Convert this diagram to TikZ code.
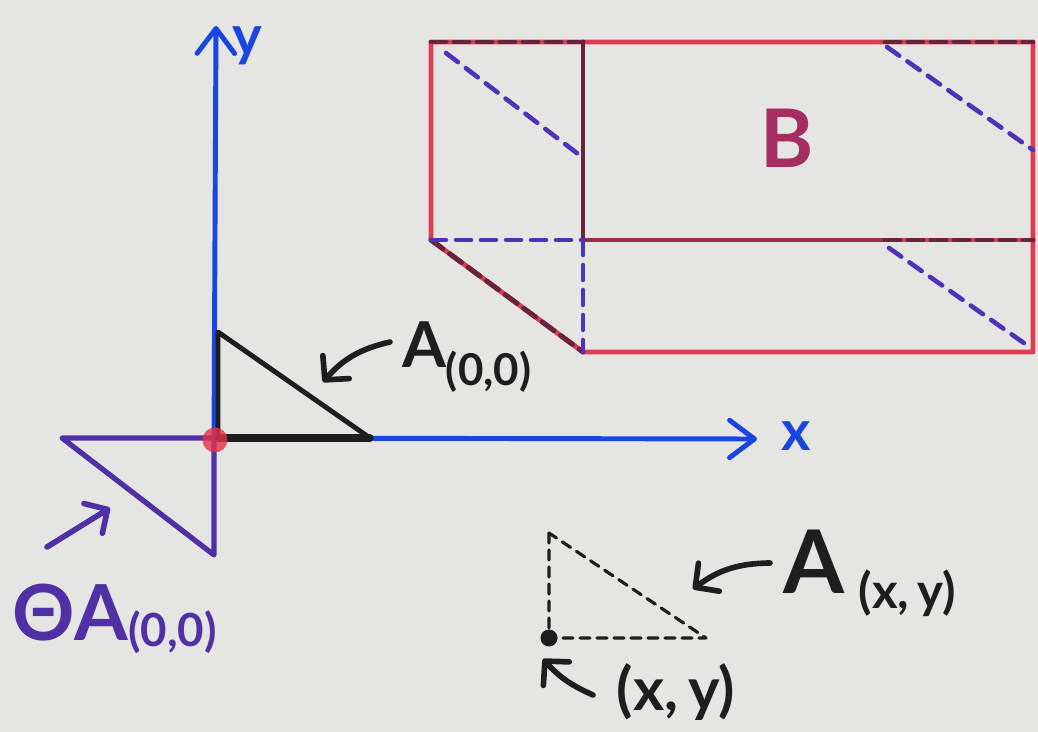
\documentclass[tikz,border=0pt]{standalone}
\usepackage{fontspec}
\setmainfont{Lato}
\usetikzlibrary{arrows.meta}
\definecolor{paper}{RGB}{229,229,227}
\definecolor{axisblue}{RGB}{25,70,225}
\definecolor{markpurple}{RGB}{80,48,165}
\definecolor{boxred}{RGB}{222,60,82}
\definecolor{boxdark}{RGB}{105,35,60}
\definecolor{inkblack}{RGB}{30,30,30}
\definecolor{bmag}{RGB}{165,45,95}
\definecolor{dotred}{RGB}{228,50,72}
\definecolor{dashpurple}{RGB}{78,50,185}
\begin{document}
\begin{tikzpicture}[x=0.02cm,y=-0.02cm,line cap=round,line join=round,
  axis/.style={draw=axisblue,line width=2.8pt},
  axistip/.style={-{Straight Barb[length=0.5cm,width=0.75cm,round]}},
  pointtip/.style={-{Straight Barb[length=0.34cm,width=0.7cm,round]}},
  redline/.style={draw=boxred,line width=2.8pt},
  darkdash/.style={draw=boxdark,line width=2.8pt,dash pattern=on 0.3cm off 0.16cm},
  purpledash/.style={draw=dashpurple,line width=2.6pt,dash pattern=on 0.3cm off 0.2cm},
  inkdash/.style={draw=inkblack,line width=1.8pt,dash pattern=on 0.2cm off 0.14cm},
  lbl/.style={inner sep=0pt,outer sep=0pt}]
\fill[paper] (0,0) rectangle (1038,732);
\useasboundingbox (0,0) rectangle (1038,732);

% ---- box B ----
\coordinate (tl) at (431,42);
\coordinate (tm) at (583,42);
\coordinate (tr2) at (885,42);
\coordinate (tr) at (1033,42);
\coordinate (ml) at (431,240);
\coordinate (mm) at (583,240);
\coordinate (mr2) at (885,240);
\coordinate (mr) at (1033,240);
\coordinate (bm) at (583,352);
\coordinate (br) at (1033,352);
\draw[redline] (tl) -- (tr) -- (br) -- (bm) -- (ml) -- cycle;
\draw[redline] (mm) -- (mr);
\draw[draw=boxdark,line width=2.8pt] (tm) -- (mm);
\draw[draw=boxdark!60!boxred,line width=2.6pt] (mm) -- (mr2);
\draw[darkdash] (tl) -- (tm);
\draw[darkdash] (tr2) -- (tr);
\draw[darkdash] (mr2) -- (mr);
\draw[darkdash] (ml) -- (bm);
\draw[purpledash] (ml) -- (mm);
\draw[purpledash] (mm) -- (bm);
\draw[purpledash] (446,53) -- (582,157);
\draw[purpledash] (887,47) -- (1033,150);
\draw[purpledash] (889,248) -- (1031,348);
\node[lbl,text=bmag,font=\bfseries\fontsize{46}{50}\selectfont] (B) at (787,138) {B};

% ---- axes ----
\coordinate (O) at (214,438);
\coordinate (ytop) at (216,26);
\coordinate (xend) at (757,439);
\draw[axis,axistip] (O) -- (ytop);
\draw[axis,axistip] (O) -- (xend);
\node[lbl,text=axisblue,font=\bfseries\fontsize{32}{36}\selectfont] (ylab) at (247,46) {y};
\node[lbl,text=axisblue,font=\bfseries\fontsize{32}{36}\selectfont] (xlab) at (796,436) {x};

% ---- purple rotated triangle ----
\coordinate (p1) at (62,438);
\coordinate (p3) at (214,555);
\draw[draw=markpurple,line width=3pt] (p1) -- (O) -- (p3) -- cycle;

% ---- black triangle A(0,0) ----
\coordinate (a1) at (218,332);
\coordinate (a2) at (218,438);
\coordinate (a3) at (370,438);
\draw[draw=inkblack,line width=2.8pt] (a2) -- (a1) -- (a3);
\draw[draw=inkblack,line width=4.2pt] (a2) -- (a3);

% ---- red dot at origin ----
\fill[dotred,opacity=0.8] (215,440) circle[radius=0.25cm];

% ---- label A(0,0) ----
\node[lbl,anchor=base west,text=inkblack] (A00) at (402,368)
  {\bfseries\fontsize{36}{40}\selectfont A\raisebox{-0.36cm}{\fontsize{25}{28}\selectfont(0,0)}};
\coordinate (A00s) at (390,342);
\coordinate (A00t) at (323,382);
\draw[draw=inkblack,line width=3.2pt,pointtip] (A00s) to[bend right=18] (A00t);

% ---- label ThetaA(0,0) ----
\node[lbl,anchor=base west,text=markpurple] (TA) at (12,641)
  {\bfseries\fontsize{44}{48}\selectfont ΘA\raisebox{-0.12cm}{\fontsize{26}{28}\selectfont(0,0)}};
\coordinate (TAs) at (47,547);
\coordinate (TAt) at (110,508);
\draw[draw=markpurple,line width=3.2pt,pointtip] (TAs) -- (TAt);

% ---- dashed triangle A(x,y) ----
\coordinate (q1) at (549,533);
\coordinate (q2) at (549,638);
\coordinate (q3) at (706,638);
\draw[inkdash] (q1) -- (q2) -- (q3) -- cycle;
\fill[inkblack] (q2) circle[radius=0.17cm];

\node[lbl,anchor=base west,text=inkblack] (Axy) at (783,594)
  {\bfseries\fontsize{50}{54}\selectfont A\,\raisebox{-0.3cm}{\fontsize{28}{30}\selectfont(x,\,y)}};
\coordinate (Axys) at (770,563);
\coordinate (Axyt) at (693,589);
\draw[draw=inkblack,line width=3.2pt,pointtip] (Axys) to[bend right=18] (Axyt);

\node[lbl,text=inkblack,font=\bfseries\fontsize{34}{38}\selectfont] (xy) at (676,692) {(x,\,y)};
\coordinate (xys) at (593,695);
\coordinate (xyt) at (543,659);
\draw[draw=inkblack,line width=3.2pt,pointtip] (xys) to[bend left=12] (xyt);
\end{tikzpicture}
\end{document}
